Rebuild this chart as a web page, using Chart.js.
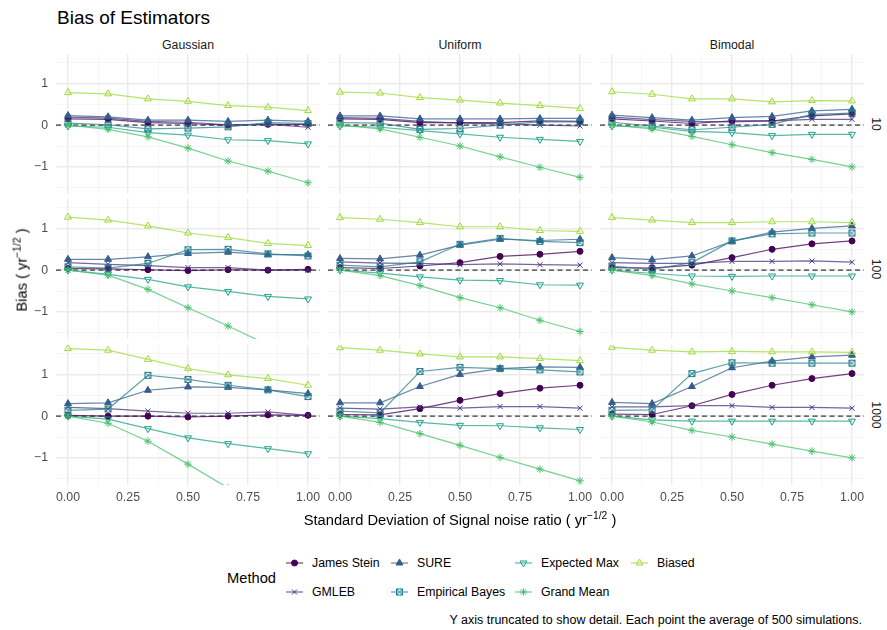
<!DOCTYPE html>
<html>
<head>
<meta charset="utf-8">
<script src="https://cdn.jsdelivr.net/npm/chart.js@4.4.1/dist/chart.umd.min.js"></script>
<style>
  body { margin: 0; background: #fff; font-family: "Liberation Sans", Arial, sans-serif; }
  #wrap { position: relative; width: 887px; height: 630px; overflow: hidden; }
  #wrap canvas { position: absolute; }
  .t { position: absolute; white-space: nowrap; line-height: 1; }
  .t sup { font-size: 0.7em; vertical-align: 0.55em; line-height: 0; }
</style>
</head>
<body>
<div id="wrap"></div>
<script>
// x positions (signal noise sd) and facet labels
const xVals = [0, 0.167, 0.333, 0.5, 0.667, 0.833, 1];
const dists = ['Gaussian', 'Uniform', 'Bimodal'];
const sizes = ['10', '100', '1000'];
const methods = ['James Stein', 'GMLEB', 'SURE', 'Empirical Bayes', 'Expected Max', 'Grand Mean', 'Biased'];

// tick values / labels
const xGrid = [0, 0.125, 0.25, 0.375, 0.5, 0.625, 0.75, 0.875, 1];
const xMajor = [0, 0.25, 0.5, 0.75, 1];
const xLabels = ['0.00', '0.25', '0.50', '0.75', '1.00'];
const yGrid = [-1.5, -1, -0.5, 0, 0.5, 1, 1.5];
const yMajor = [-1, 0, 1];
const yLabels = ['\u22121', '0', '1'];

// bias per method, panels in order: G10,U10,B10, G100,U100,B100, G1000,U1000,B1000
const jamesStein = [
  [0.15, 0.14, 0.06, 0.04, 0.00, 0.02, 0.02],
  [0.15, 0.14, 0.06, 0.06, 0.06, 0.10, 0.09],
  [0.15, 0.10, 0.04, 0.10, 0.10, 0.22, 0.27],
  [0.04, 0.03, 0.01, -0.01, 0.01, 0.00, 0.02],
  [0.06, 0.04, 0.10, 0.18, 0.33, 0.38, 0.45],
  [0.06, 0.05, 0.12, 0.30, 0.50, 0.63, 0.70],
  [0.02, 0.00, 0.00, -0.02, 0.00, 0.03, 0.02],
  [0.04, 0.03, 0.18, 0.38, 0.54, 0.67, 0.74],
  [0.05, 0.04, 0.25, 0.52, 0.74, 0.90, 1.02]
];
const gmleb = [
  [0.19, 0.17, 0.09, 0.07, 0.01, 0.02, -0.05],
  [0.18, 0.16, 0.09, 0.05, 0.03, 0.00, -0.02],
  [0.19, 0.13, 0.09, 0.08, 0.10, 0.14, 0.14],
  [0.18, 0.14, 0.11, 0.06, 0.06, 0.00, 0.00],
  [0.20, 0.17, 0.16, 0.13, 0.15, 0.13, 0.12],
  [0.18, 0.16, 0.16, 0.21, 0.21, 0.22, 0.19],
  [0.21, 0.18, 0.12, 0.07, 0.07, 0.10, 0.02],
  [0.19, 0.17, 0.22, 0.19, 0.23, 0.23, 0.19],
  [0.22, 0.22, 0.25, 0.25, 0.21, 0.21, 0.19]
];
const sure = [
  [0.23, 0.20, 0.12, 0.12, 0.09, 0.12, 0.09],
  [0.22, 0.22, 0.15, 0.15, 0.15, 0.16, 0.16],
  [0.24, 0.18, 0.12, 0.18, 0.21, 0.34, 0.38],
  [0.26, 0.26, 0.32, 0.40, 0.43, 0.37, 0.37],
  [0.28, 0.27, 0.36, 0.60, 0.74, 0.71, 0.74],
  [0.30, 0.25, 0.34, 0.69, 0.91, 1.00, 1.06],
  [0.30, 0.32, 0.62, 0.70, 0.69, 0.63, 0.54],
  [0.32, 0.32, 0.71, 1.00, 1.14, 1.18, 1.17],
  [0.33, 0.30, 0.71, 1.16, 1.32, 1.42, 1.46]
];
const empBayes = [
  [0.05, 0.01, -0.09, -0.07, -0.04, 0.06, 0.04],
  [0.06, 0.05, -0.10, -0.08, 0.00, 0.08, 0.08],
  [0.07, -0.02, -0.11, -0.05, 0.02, 0.26, 0.29],
  [0.08, 0.05, 0.16, 0.49, 0.50, 0.39, 0.34],
  [0.12, 0.08, 0.20, 0.62, 0.76, 0.69, 0.66],
  [0.10, 0.02, 0.18, 0.70, 0.87, 0.89, 0.89],
  [0.14, 0.17, 0.98, 0.88, 0.74, 0.63, 0.47],
  [0.12, 0.08, 1.07, 1.17, 1.14, 1.11, 1.06],
  [0.14, 0.15, 1.02, 1.28, 1.27, 1.27, 1.27]
];
const expMax = [
  [-0.02, -0.05, -0.18, -0.24, -0.35, -0.37, -0.45],
  [-0.02, -0.05, -0.13, -0.21, -0.29, -0.34, -0.39],
  [-0.02, -0.05, -0.15, -0.18, -0.25, -0.22, -0.22],
  [0.00, -0.10, -0.22, -0.40, -0.51, -0.63, -0.69],
  [0.00, -0.07, -0.16, -0.24, -0.25, -0.35, -0.36],
  [0.00, -0.08, -0.14, -0.15, -0.14, -0.14, -0.14],
  [0.00, -0.07, -0.30, -0.52, -0.66, -0.78, -0.90],
  [0.00, -0.06, -0.15, -0.22, -0.23, -0.28, -0.32],
  [0.00, -0.09, -0.12, -0.12, -0.12, -0.12, -0.12]
];
const grandMean = [
  [0.00, -0.10, -0.28, -0.55, -0.86, -1.10, -1.38],
  [0.00, -0.09, -0.29, -0.50, -0.76, -1.01, -1.25],
  [0.00, -0.09, -0.27, -0.47, -0.66, -0.82, -1.00],
  [0.00, -0.12, -0.46, -0.90, -1.34, -1.79, -2.24],
  [0.00, -0.13, -0.37, -0.66, -0.90, -1.20, -1.47],
  [0.00, -0.13, -0.33, -0.50, -0.66, -0.83, -1.00],
  [0.00, -0.17, -0.60, -1.15, -1.72, -2.30, -2.85],
  [0.00, -0.15, -0.42, -0.70, -0.99, -1.27, -1.55],
  [0.00, -0.14, -0.34, -0.50, -0.67, -0.84, -1.00]
];
const biased = [
  [0.78, 0.75, 0.63, 0.57, 0.47, 0.43, 0.35],
  [0.79, 0.77, 0.66, 0.60, 0.53, 0.47, 0.40],
  [0.80, 0.74, 0.63, 0.63, 0.56, 0.59, 0.58],
  [1.27, 1.20, 1.06, 0.89, 0.78, 0.64, 0.59],
  [1.26, 1.22, 1.14, 1.04, 1.04, 0.95, 0.93],
  [1.26, 1.20, 1.14, 1.14, 1.16, 1.16, 1.14],
  [1.62, 1.58, 1.36, 1.14, 0.99, 0.90, 0.74],
  [1.64, 1.58, 1.49, 1.42, 1.42, 1.38, 1.33],
  [1.65, 1.58, 1.54, 1.55, 1.54, 1.54, 1.53]
];
const series = [jamesStein, gmleb, sure, empBayes, expMax, grandMean, biased];

// look
const FONT = '"Liberation Sans", Arial, sans-serif';
const colors = ['#440154', '#46337E', '#365C8D', '#277F8E', '#1FA187', '#4AC16D', '#9FDA3A'];

function boxCross(col) { // ggplot shape 7 (square with x)
  const c = document.createElement('canvas');
  c.width = 9; c.height = 9;
  const g = c.getContext('2d');
  g.strokeStyle = col; g.lineWidth = 1;
  g.strokeRect(1.5, 1.5, 6, 6);
  g.beginPath();
  g.moveTo(1.5, 1.5); g.lineTo(7.5, 7.5);
  g.moveTo(7.5, 1.5); g.lineTo(1.5, 7.5);
  g.stroke();
  return c;
}
const shapes = [
  { pointStyle: 'circle', radius: 3, fill: true },
  { pointStyle: 'crossRot', radius: 3.6, fill: false },
  { pointStyle: 'triangle', radius: 4, fill: true },
  { pointStyle: boxCross(colors[3]), radius: 4, fill: false },
  { pointStyle: 'triangle', radius: 4, fill: false, rotation: 180 },
  { pointStyle: 'star', radius: 3.8, fill: false },
  { pointStyle: 'triangle', radius: 4, fill: false }
];

const panelLeft = [56, 328, 600];
const panelTop = [54, 199, 345];
const panelW = 264, panelH = 140;
const yAxisW = 30, xAxisH = 26;

const wrap = document.getElementById('wrap');

function text(html, x, y, o = {}) {
  const d = document.createElement('div');
  d.className = 't';
  d.innerHTML = html;
  d.style.left = x + 'px';
  d.style.top = y + 'px';
  d.style.fontSize = (o.size || 12) + 'px';
  d.style.color = o.color || '#000';
  const ax = o.anchor === 'left' ? '0' : o.anchor === 'right' ? '-100%' : '-50%';
  d.style.transform = `translate(${ax}, -50%)` + (o.rot ? ` rotate(${o.rot}deg)` : '');
  if (o.rot) d.style.transformOrigin = (o.anchor === 'left' ? '0' : '50%') + ' 50%';
  wrap.appendChild(d);
  return d;
}

const zeroLine = {
  id: 'zeroLine',
  beforeDatasetsDraw(chart) {
    const { ctx, chartArea: a } = chart;
    const py = chart.scales.y.getPixelForValue(0);
    ctx.save();
    ctx.strokeStyle = '#3a3a3a';
    ctx.lineWidth = 1.2;
    ctx.setLineDash([5, 3.5]);
    ctx.beginPath();
    ctx.moveTo(a.left, py);
    ctx.lineTo(a.right, py);
    ctx.stroke();
    ctx.restore();
  }
};

const isMaj = (list, v) => list.some(m => Math.abs(m - v) < 1e-9);
const gridOpts = list => ({
  drawTicks: false,
  color: c => isMaj(list, c.tick.value) ? '#EBEBEB' : '#F3F3F3',
  lineWidth: c => isMaj(list, c.tick.value) ? 1.4 : 0.8
});

function panelDatasets(idx) {
  const lines = [], points = [];
  for (let m = methods.length - 1; m >= 0; m--) {
    const data = xVals.map((x, i) => ({ x, y: series[m][idx][i] }));
    lines.push({
      data, borderColor: colors[m] + 'BF', borderWidth: 1.2,
      pointRadius: 0, showLine: true
    });
    const s = shapes[m];
    points.push({
      data, showLine: false,
      pointStyle: s.pointStyle, pointRadius: s.radius, pointRotation: s.rotation || 0,
      pointBorderColor: colors[m], pointBorderWidth: 1,
      pointBackgroundColor: s.fill ? colors[m] : 'rgba(0,0,0,0)'
    });
  }
  return points.concat(lines); // points on top of all lines
}

for (let r = 0; r < 3; r++) {
  for (let c = 0; c < 3; c++) {
    const idx = r * 3 + c;
    const lw = c === 0 ? yAxisW : 0;
    const bh = r === 2 ? xAxisH : 0;
    const cv = document.createElement('canvas');
    cv.width = panelW + lw; cv.height = panelH + bh;
    cv.style.left = (panelLeft[c] - lw) + 'px';
    cv.style.top = panelTop[r] + 'px';
    wrap.appendChild(cv);

    new Chart(cv, {
      type: 'line',
      data: { datasets: panelDatasets(idx) },
      options: {
        responsive: false, animation: false, events: [],
        layout: { padding: 0, autoPadding: false },
        plugins: { legend: { display: false }, tooltip: { enabled: false } },
        scales: {
          x: {
            type: 'linear', min: -0.05, max: 1.05,
            afterBuildTicks: s => { s.ticks = xGrid.map(v => ({ value: v })); },
            afterFit: s => { s.height = bh; s.paddingLeft = 0; s.paddingRight = 0; },
            ticks: {
              display: r === 2, autoSkip: false, maxRotation: 0, padding: 5,
              color: '#4D4D4D', font: { family: FONT, size: 12.3 },
              callback: v => { const k = xMajor.findIndex(m => Math.abs(m - v) < 1e-9); return k < 0 ? '' : xLabels[k]; }
            },
            grid: gridOpts(xMajor), border: { display: false }
          },
          y: {
            type: 'linear', min: -1.65, max: 1.705,
            afterBuildTicks: s => { s.ticks = yGrid.map(v => ({ value: v })); },
            afterFit: s => { s.width = lw; s.paddingTop = 0; s.paddingBottom = 0; },
            ticks: {
              display: c === 0, autoSkip: false, padding: 8,
              color: '#4D4D4D', font: { family: FONT, size: 12.3 },
              callback: v => { const k = yMajor.findIndex(m => Math.abs(m - v) < 1e-9); return k < 0 ? '' : yLabels[k]; }
            },
            grid: gridOpts(yMajor), border: { display: false }
          }
        }
      },
      plugins: [zeroLine]
    });
  }
}

// facet strips
dists.forEach((d, c) => text(d, panelLeft[c] + panelW / 2, 45, { color: '#1A1A1A', size: 12.3 }));
sizes.forEach((s, r) => text(s, 876, panelTop[r] + panelH / 2, { color: '#1A1A1A', size: 12.3, rot: 90 }));

// titles
text('Bias of Estimators', 57, 17, { size: 19, anchor: 'left' });
text('Bias ( yr<sup>\u22121/2</sup> )', 22, 270, { size: 14.7, rot: -90 });
text('Standard Deviation of Signal noise ratio ( yr<sup>\u22121/2</sup> )', 460, 520, { size: 14.7 });
text('Y axis truncated to show detail. Each point the average of 500 simulations.', 862, 620, { size: 12.5, anchor: 'right' });

// legend
text('Method', 227, 578, { size: 14.7, anchor: 'left' });
const keyX = [286, 391, 515, 631];
const keyY = [563, 592];
methods.forEach((name, m) => {
  const col = Math.floor(m / 2), row = m % 2;
  const k = document.createElement('canvas');
  k.width = 18; k.height = 14;
  k.style.left = keyX[col] + 'px';
  k.style.top = (keyY[row] - 7) + 'px';
  wrap.appendChild(k);
  const g = k.getContext('2d');
  g.strokeStyle = colors[m] + 'BF'; g.lineWidth = 1.2;
  g.beginPath(); g.moveTo(0, 7); g.lineTo(17, 7); g.stroke();
  const s = shapes[m];
  g.strokeStyle = colors[m]; g.lineWidth = 1;
  g.fillStyle = s.fill ? colors[m] : 'rgba(0,0,0,0)';
  Chart.helpers.drawPoint(g, { pointStyle: s.pointStyle, radius: s.radius, rotation: s.rotation || 0, borderWidth: 1 }, 8.5, 7);
  text(name, keyX[col] + 26, keyY[row], { size: 12.3, anchor: 'left' });
});
</script>
</body>
</html>
